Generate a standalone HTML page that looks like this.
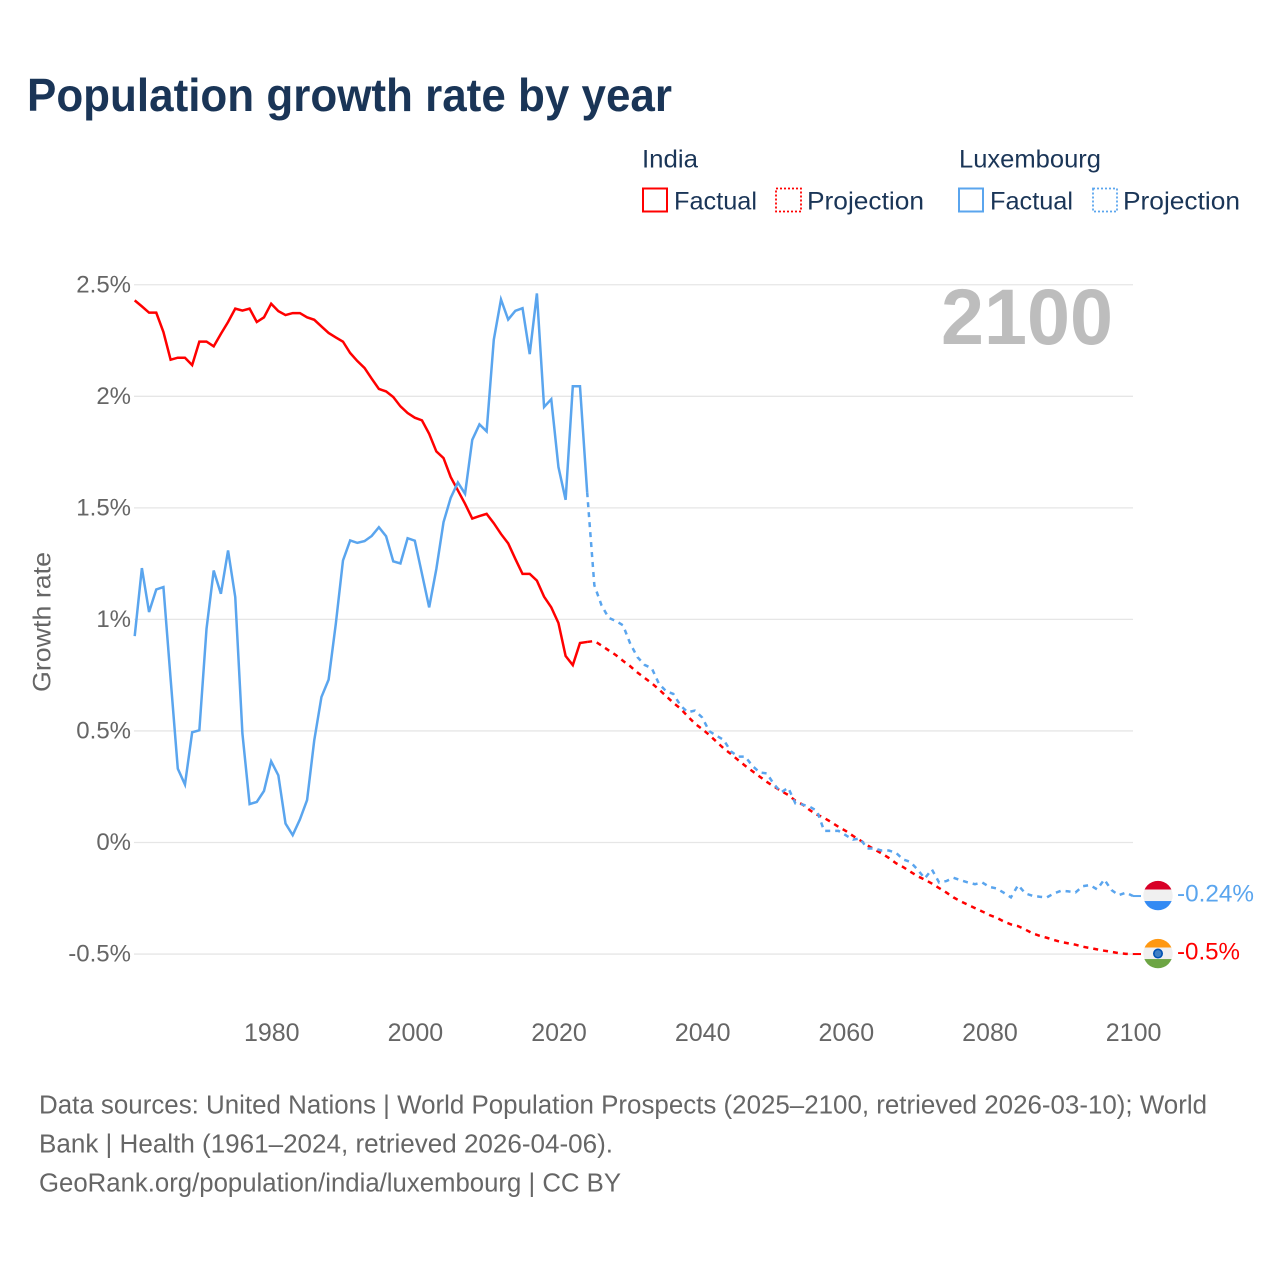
<!DOCTYPE html>
<html lang="en">
<head>
<meta charset="utf-8">
<title>Population growth rate by year</title>
<style>
html,body{margin:0;padding:0;background:#fff;}
svg{display:block;font-family:"Liberation Sans",sans-serif;}
.tick{font-size:24px;fill:#666;}
.tickx{font-size:25px;fill:#666;}
.leg{font-size:25px;fill:#1a3557;}
.foot{font-size:25.5px;fill:#666;}
</style>
</head>
<body>
<svg id="chart" xmlns="http://www.w3.org/2000/svg" width="1280" height="1280" viewBox="0 0 1280 1280">
  <rect x="0" y="0" width="1280" height="1280" fill="#ffffff"/>
  <text x="27" y="111" font-size="46" font-weight="700" fill="#1a3557" textLength="645" lengthAdjust="spacingAndGlyphs">Population growth rate by year</text>

  <g>
    <text class="leg" x="642" y="167.5" textLength="56" lengthAdjust="spacingAndGlyphs">India</text>
    <text class="leg" x="959" y="167.5" textLength="142" lengthAdjust="spacingAndGlyphs">Luxembourg</text>
    <rect x="643" y="188.5" width="24" height="23" fill="none" stroke="#ff0000" stroke-width="2"/>
    <text class="leg" x="674" y="209.5" textLength="83" lengthAdjust="spacingAndGlyphs">Factual</text>
    <rect x="776" y="188.5" width="25" height="23" fill="none" stroke="#ff0000" stroke-width="1.8" stroke-dasharray="2 2"/>
    <text class="leg" x="807" y="209.5" textLength="117" lengthAdjust="spacingAndGlyphs">Projection</text>
    <rect x="959" y="188.5" width="24" height="23" fill="none" stroke="#5aa5ee" stroke-width="2"/>
    <text class="leg" x="990" y="209.5" textLength="83" lengthAdjust="spacingAndGlyphs">Factual</text>
    <rect x="1093" y="188.5" width="24" height="23" fill="none" stroke="#5aa5ee" stroke-width="1.8" stroke-dasharray="2 2"/>
    <text class="leg" x="1123" y="209.5" textLength="117" lengthAdjust="spacingAndGlyphs">Projection</text>
  </g>

  <g id="grid"></g>
  <g id="yticks"></g>
  <g id="xticks"></g>
  <text transform="translate(50.5,622) rotate(-90)" text-anchor="middle" font-size="25" fill="#666" textLength="140" lengthAdjust="spacingAndGlyphs">Growth rate</text>
  <text x="1113" y="344" text-anchor="end" font-size="79" font-weight="700" fill="#bdbdbd" textLength="172" lengthAdjust="spacingAndGlyphs">2100</text>
  <g id="series"></g>
  <g id="ends"></g>

  <g>
    <text class="foot" x="39" y="1113.5" textLength="1168" lengthAdjust="spacingAndGlyphs">Data sources: United Nations | World Population Prospects (2025–2100, retrieved 2026-03-10); World</text>
    <text class="foot" x="39" y="1152.5" textLength="574" lengthAdjust="spacingAndGlyphs">Bank | Health (1961–2024, retrieved 2026-04-06).</text>
    <text class="foot" x="39" y="1191.5" textLength="582" lengthAdjust="spacingAndGlyphs">GeoRank.org/population/india/luxembourg | CC BY</text>
  </g>
</svg>

<script>
const factualStartYear = 1961;
const projectionStartYear = 2024;
const yTickValues = [2.5, 2, 1.5, 1, 0.5, 0, -0.5];
const yTickLabels = ["2.5%", "2%", "1.5%", "1%", "0.5%", "0%", "-0.5%"];
const xTickYears = [1980, 2000, 2020, 2040, 2060, 2080, 2100];

const indiaFactual = [
  2.430, 2.403, 2.375, 2.375, 2.288, 2.164, 2.173, 2.173, 2.140, 2.245,
  2.245, 2.224, 2.280, 2.333, 2.393, 2.384, 2.393, 2.333, 2.354, 2.415,
  2.382, 2.364, 2.373, 2.373, 2.354, 2.343, 2.313, 2.284, 2.264, 2.245,
  2.194, 2.158, 2.127, 2.079, 2.033, 2.022, 1.997, 1.955, 1.925, 1.904,
  1.892, 1.832, 1.753, 1.723, 1.638, 1.578, 1.518, 1.452, 1.463, 1.473,
  1.431, 1.383, 1.341, 1.271, 1.204, 1.204, 1.174, 1.102, 1.054, 0.984,
  0.836, 0.795, 0.894, 0.899
];
const indiaProjection = [
  0.899, 0.903, 0.883, 0.861, 0.840, 0.814, 0.790, 0.762, 0.738, 0.714,
  0.686, 0.656, 0.626, 0.600, 0.566, 0.533, 0.509, 0.482, 0.452, 0.422,
  0.397, 0.370, 0.344, 0.320, 0.296, 0.272, 0.251, 0.231, 0.213, 0.187,
  0.170, 0.145, 0.125, 0.110, 0.091, 0.070, 0.052, 0.030, 0.010, -0.012,
  -0.031, -0.049, -0.069, -0.093, -0.110, -0.131, -0.151, -0.166, -0.184, -0.204,
  -0.224, -0.246, -0.264, -0.279, -0.294, -0.309, -0.325, -0.337, -0.354, -0.367,
  -0.375, -0.390, -0.407, -0.418, -0.427, -0.437, -0.446, -0.452, -0.458, -0.467,
  -0.473, -0.479, -0.485, -0.490, -0.496, -0.499, -0.500
];
const luxFactual = [
  0.925, 1.230, 1.033, 1.134, 1.145, 0.734, 0.331, 0.260, 0.494, 0.503,
  0.958, 1.219, 1.115, 1.309, 1.100, 0.488, 0.172, 0.182, 0.231, 0.364,
  0.301, 0.085, 0.033, 0.103, 0.190, 0.458, 0.652, 0.730, 0.980, 1.264,
  1.354, 1.343, 1.351, 1.374, 1.413, 1.373, 1.260, 1.251, 1.364, 1.353,
  1.204, 1.054, 1.226, 1.436, 1.545, 1.614, 1.563, 1.805, 1.874, 1.843,
  2.254, 2.434, 2.344, 2.383, 2.395, 2.189, 2.461, 1.952, 1.987, 1.683,
  1.536, 2.045, 2.045, 1.570
];
const luxProjection = [
  1.570, 1.153, 1.063, 1.007, 0.993, 0.973, 0.891, 0.831, 0.796, 0.781,
  0.711, 0.678, 0.666, 0.614, 0.584, 0.591, 0.561, 0.499, 0.479, 0.460,
  0.409, 0.385, 0.385, 0.344, 0.314, 0.310, 0.262, 0.225, 0.245, 0.175,
  0.170, 0.160, 0.142, 0.052, 0.052, 0.052, 0.033, 0.013, 0.018, -0.027,
  -0.027, -0.036, -0.036, -0.046, -0.076, -0.087, -0.121, -0.161, -0.121, -0.179,
  -0.173, -0.158, -0.169, -0.179, -0.187, -0.179, -0.199, -0.206, -0.225, -0.246,
  -0.191, -0.228, -0.239, -0.243, -0.246, -0.228, -0.216, -0.219, -0.224, -0.196,
  -0.191, -0.210, -0.166, -0.213, -0.236, -0.225, -0.240
];

const SVGNS = "http://www.w3.org/2000/svg";
function xScale(year) { return 134.7 + (year - factualStartYear) * 7.182; }
function yScale(value) { return 842.5 - value * 223.1; }
function make(tag, parent) {
  const el = document.createElementNS(SVGNS, tag);
  parent.appendChild(el);
  return el;
}
function pathFrom(values, startYear) {
  return values.map(function (v, i) {
    return (i ? "L" : "M") + xScale(startYear + i).toFixed(2) + " " + yScale(v).toFixed(2);
  }).join(" ");
}
function formatPct(v) { return String(Math.round(v * 100) / 100) + "%"; }

const gridG = document.getElementById("grid");
const yG = document.getElementById("yticks");
const xG = document.getElementById("xticks");
const seriesG = document.getElementById("series");
const endsG = document.getElementById("ends");

yTickValues.forEach(function (v, i) {
  const line = make("line", gridG);
  
  
  line.setAttribute("x1", xScale(factualStartYear) - 0.7);
  line.setAttribute("x2", xScale(2100));
  line.setAttribute("y1", yScale(v));
  line.setAttribute("y2", yScale(v));
  line.setAttribute("stroke", "#e6e6e6");
  line.setAttribute("stroke-width", "1.3");

  const label = make("text", yG);
  
  
  label.setAttribute("class", "tick");
  label.setAttribute("x", 131);
  label.setAttribute("y", yScale(v) + 7.5);
  label.setAttribute("text-anchor", "end");
  label.textContent = yTickLabels[i];
});

xTickYears.forEach(function (year) {
  const label = make("text", xG);
  
  
  label.setAttribute("class", "tickx");
  label.setAttribute("x", xScale(year) + 0.6);
  label.setAttribute("y", 1041);
  label.setAttribute("text-anchor", "middle");
  label.textContent = String(year);
});

const lineIndiaProjection = make("path", seriesG);


lineIndiaProjection.setAttribute("d", pathFrom(indiaProjection, projectionStartYear));
lineIndiaProjection.setAttribute("fill", "none");
lineIndiaProjection.setAttribute("stroke", "#ff0000");
lineIndiaProjection.setAttribute("stroke-width", "2.5");
lineIndiaProjection.setAttribute("stroke-dasharray", "5 5");

const lineLuxProjection = make("path", seriesG);


lineLuxProjection.setAttribute("d", pathFrom(luxProjection, projectionStartYear));
lineLuxProjection.setAttribute("fill", "none");
lineLuxProjection.setAttribute("stroke", "#5aa5ee");
lineLuxProjection.setAttribute("stroke-width", "2.5");
lineLuxProjection.setAttribute("stroke-dasharray", "5 5");

const lineIndiaFactual = make("path", seriesG);


lineIndiaFactual.setAttribute("d", pathFrom(indiaFactual, factualStartYear));
lineIndiaFactual.setAttribute("fill", "none");
lineIndiaFactual.setAttribute("stroke", "#ff0000");
lineIndiaFactual.setAttribute("stroke-width", "2.5");

const lineLuxFactual = make("path", seriesG);


lineLuxFactual.setAttribute("d", pathFrom(luxFactual, factualStartYear));
lineLuxFactual.setAttribute("fill", "none");
lineLuxFactual.setAttribute("stroke", "#5aa5ee");
lineLuxFactual.setAttribute("stroke-width", "2.5");

function drawFlag(group, cx, cy, colors, clipId) {
  const clip = make("clipPath", group);
  clip.setAttribute("id", clipId);
  const clipCircle = make("circle", clip);
  clipCircle.setAttribute("cx", cx);
  clipCircle.setAttribute("cy", cy);
  clipCircle.setAttribute("r", 14.7);
  colors.forEach(function (color, i) {
    const tops = [-15, -6, 5.5];
    const hs = [9, 11.5, 10];
    const band = make("rect", group);
    band.setAttribute("x", cx - 15);
    band.setAttribute("y", cy + tops[i]);
    band.setAttribute("width", 30);
    band.setAttribute("height", hs[i]);
    band.setAttribute("fill", color);
    band.setAttribute("clip-path", "url(#" + clipId + ")");
  });
}

const indiaEnd = indiaProjection[indiaProjection.length - 1];
const luxEnd = luxProjection[luxProjection.length - 1];

const connectorIndia = make("line", endsG);


connectorIndia.setAttribute("x1", xScale(2100));
connectorIndia.setAttribute("x2", xScale(2100) + 8);
connectorIndia.setAttribute("y1", yScale(indiaEnd));
connectorIndia.setAttribute("y2", yScale(indiaEnd));
connectorIndia.setAttribute("stroke", "#ff0000");
connectorIndia.setAttribute("stroke-width", "2");

const connectorLux = make("line", endsG);


connectorLux.setAttribute("x1", xScale(2100));
connectorLux.setAttribute("x2", xScale(2100) + 8);
connectorLux.setAttribute("y1", yScale(luxEnd));
connectorLux.setAttribute("y2", yScale(luxEnd));
connectorLux.setAttribute("stroke", "#5aa5ee");
connectorLux.setAttribute("stroke-width", "2");

const flagLux = make("g", endsG);


drawFlag(flagLux, xScale(2100) + 25, yScale(luxEnd) - 0.5, ["#d80027", "#f0f0f0", "#338af3"], "clip-lux");

const flagIndia = make("g", endsG);


drawFlag(flagIndia, xScale(2100) + 25, yScale(indiaEnd) - 0.5, ["#ff9811", "#f0f0f0", "#6da544"], "clip-india");
const chakra = make("circle", flagIndia);
chakra.setAttribute("cx", xScale(2100) + 25);
chakra.setAttribute("cy", yScale(indiaEnd) - 0.5);
chakra.setAttribute("r", 4.2);
chakra.setAttribute("fill", "#3f7fc4");
chakra.setAttribute("stroke", "#0052b4");
chakra.setAttribute("stroke-width", "1.6");

const valueLux = make("text", endsG);


valueLux.setAttribute("x", 1177);
valueLux.setAttribute("y", yScale(luxEnd) + 5.5);
valueLux.setAttribute("font-size", "24.5");
valueLux.setAttribute("fill", "#5aa5ee");
valueLux.setAttribute("textLength", "77");
valueLux.setAttribute("lengthAdjust", "spacingAndGlyphs");
valueLux.textContent = formatPct(luxEnd);

const valueIndia = make("text", endsG);


valueIndia.setAttribute("x", 1177);
valueIndia.setAttribute("y", yScale(indiaEnd) + 5.5);
valueIndia.setAttribute("font-size", "24.5");
valueIndia.setAttribute("fill", "#ff0000");
valueIndia.setAttribute("textLength", "63");
valueIndia.setAttribute("lengthAdjust", "spacingAndGlyphs");
valueIndia.textContent = formatPct(indiaEnd);
</script>
</body>
</html>
